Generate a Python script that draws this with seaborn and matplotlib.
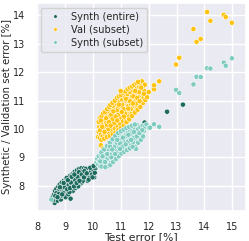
import numpy as np
import pandas as pd
import matplotlib
matplotlib.use("Agg")
import matplotlib.pyplot as plt
import seaborn as sns

# Synth (entire): test error vs synthetic error (dark cluster + a few strays)
entire_x = [8.50, 8.55, 8.58, 8.62, 8.60, 8.63, 8.66, 8.68, 8.70, 8.72, 8.74, 8.75,
            8.77, 8.79, 8.80, 8.82, 8.84, 8.85, 8.87, 8.88, 8.90, 8.91, 8.93, 8.95,
            8.96, 8.98, 9.00, 9.01, 9.03, 9.04, 9.06, 9.08, 9.10, 9.11, 9.13, 9.14,
            9.16, 9.18, 9.19, 9.21, 9.22, 9.24, 9.26, 9.27, 9.29, 9.30, 9.32, 9.34,
            9.35, 9.37, 9.38, 9.40, 9.42, 9.43, 9.45, 9.47, 9.48, 9.50, 9.52, 9.53,
            9.55, 9.57, 9.58, 9.60, 9.62, 9.64, 9.66, 9.68, 9.70, 9.72, 9.75, 9.78,
            9.80, 9.82, 9.86, 9.88, 9.92, 9.96, 10.00, 10.04, 10.08, 10.12,
            8.68, 8.86, 8.97, 9.05, 9.15, 9.25, 8.78, 8.92, 9.02, 9.12, 9.20, 9.28,
            9.36, 9.44, 9.46, 9.56, 9.63, 9.74, 9.84,
            8.56, 8.64, 8.72, 8.81, 8.89, 8.94, 9.07, 9.09, 9.17, 9.23, 9.31, 9.33,
            9.41, 9.49, 9.51, 9.59, 9.67, 9.69, 9.77, 9.90, 9.98, 10.06, 10.02,
            11.85, 12.66, 13.23]
entire_y = [7.52, 7.62, 7.45, 7.40, 7.70, 7.82, 7.58, 7.90, 7.66, 7.48, 7.78, 7.97,
            7.60, 7.86, 8.05, 7.70, 7.52, 7.93, 8.12, 7.80, 7.64, 8.00, 7.88, 8.18,
            7.72, 8.06, 7.93, 7.60, 8.22, 7.82, 8.10, 7.98, 8.30, 7.70, 8.15, 7.88,
            8.04, 8.36, 7.55, 8.22, 7.95, 8.10, 8.42, 7.82, 8.28, 8.02, 8.16, 8.50,
            7.92, 8.34, 8.08, 8.22, 8.55, 8.00, 8.40, 8.14, 8.28, 8.60, 8.06, 8.45,
            8.20, 8.34, 8.62, 8.12, 8.50, 8.28, 8.40, 8.62, 8.22, 8.48, 8.34, 8.58,
            8.18, 8.44, 8.62, 8.30, 8.50, 8.40, 8.58, 8.30, 8.62, 8.72,
            7.74, 7.66, 7.95, 8.28, 7.78, 8.15, 7.72, 7.75, 8.12, 8.02, 8.12, 8.38,
            8.20, 8.32, 7.98, 8.50, 8.18, 8.60, 8.22,
            7.50, 7.64, 7.60, 7.95, 7.70, 8.10, 7.88, 8.20, 7.92, 8.32, 7.98, 8.40,
            8.10, 8.48, 8.18, 8.40, 8.30, 8.52, 8.44, 8.64, 8.30, 8.46, 8.70,
            10.23, 10.61, 10.86]

# Val (subset)
val_x = [10.18, 10.20, 10.22, 10.24, 10.26, 10.28, 10.30, 10.32, 10.34, 10.36, 10.38,
         10.40, 10.42, 10.44, 10.46, 10.48, 10.50, 10.52, 10.54, 10.56, 10.58, 10.60,
         10.62, 10.64, 10.66, 10.68, 10.70, 10.72, 10.74, 10.76, 10.78, 10.80, 10.82,
         10.84, 10.86, 10.88, 10.90, 10.92, 10.94, 10.96, 10.98, 11.00, 11.02, 11.04,
         11.06, 11.08, 11.10, 11.12, 11.14, 11.16, 11.18, 11.20, 11.22, 11.24, 11.26,
         11.28, 11.30, 11.32, 11.34, 11.36, 11.38, 11.40, 11.42, 11.44, 11.46, 11.48,
         11.50, 11.52, 11.54, 11.56, 11.58, 11.60, 11.62, 11.64, 11.66, 11.68, 11.70,
         11.72, 11.74, 11.76, 11.78, 11.80, 11.82, 11.84, 11.86, 11.90,
         10.25, 10.35, 10.45, 10.55, 10.65, 10.75, 10.85, 10.95, 11.05, 11.15, 11.25,
         11.35, 11.45, 11.55, 11.65, 11.10, 10.90, 10.70, 10.50, 10.30,
         10.20, 10.24, 10.30, 10.28, 10.36, 10.42, 10.50, 10.58, 10.62, 10.70, 10.78,
         10.86, 10.92, 11.00, 11.08, 11.16, 11.24, 11.32, 11.40, 11.48, 11.56, 11.62,
         10.30, 10.40, 10.50, 10.60, 10.70, 10.80, 10.90, 11.00, 11.10, 11.20, 11.30,
         11.40, 11.50, 11.60, 11.70, 11.80, 11.88, 11.94,
         10.33, 10.41, 10.47, 10.57, 10.63, 10.73, 10.81, 10.87, 10.93, 11.03, 11.11,
         11.19, 11.27, 11.33, 11.43, 11.51, 11.59, 11.67, 11.73, 11.83,
         10.99, 10.28, 10.36, 12.00, 12.19, 12.19, 12.38, 12.98, 13.10, 13.61, 13.72,
         13.87, 14.10, 14.22, 14.70, 14.77, 14.99]
val_y = [9.72, 9.90, 10.08, 9.68, 10.22, 9.82, 10.00, 10.36, 9.74, 10.14, 9.92,
         10.44, 10.28, 9.80, 10.06, 10.52, 9.94, 10.34, 10.18, 10.62, 9.86, 10.46,
         10.04, 10.70, 10.26, 9.96, 10.56, 10.14, 10.80, 10.38, 10.02, 10.66, 10.24,
         10.88, 10.48, 10.10, 10.74, 10.32, 10.96, 10.56, 10.18, 10.82, 10.42, 11.04,
         10.64, 10.28, 10.90, 10.50, 11.12, 10.72, 10.36, 10.98, 10.58, 11.22, 10.80,
         10.46, 11.06, 10.68, 11.30, 10.88, 10.54, 11.14, 10.76, 11.36, 10.96, 10.64,
         11.22, 10.86, 11.44, 11.04, 10.74, 11.30, 10.94, 11.52, 11.12, 10.86, 11.38,
         11.60, 11.02, 11.68, 11.24, 11.48, 11.10, 11.34, 11.56, 11.20,
         9.96, 10.30, 10.20, 10.00, 10.50, 10.20, 10.65, 10.40, 10.85, 10.55, 11.00,
         10.70, 11.15, 10.90, 11.30, 10.70, 10.50, 10.35, 10.15, 10.15,
         10.25, 10.38, 10.45, 10.30, 10.55, 10.60, 10.70, 10.78, 10.85, 10.92, 11.00,
         11.10, 11.15, 11.20, 11.28, 11.32, 11.40, 11.46, 11.50, 11.56, 11.62, 11.66,
         9.62, 9.66, 9.72, 9.76, 9.82, 9.88, 9.96, 10.04, 10.12, 10.24, 10.34,
         10.46, 10.58, 10.68, 10.78, 10.92, 11.02, 11.12,
         10.08, 9.90, 10.38, 10.24, 10.12, 10.62, 10.44, 10.30, 10.86, 10.60, 10.44,
         11.06, 10.72, 10.98, 10.90, 11.34, 11.10, 10.98, 11.46, 11.24,
         11.34, 9.43, 9.33, 11.30, 11.40, 11.54, 11.68, 12.27, 12.51, 13.52, 13.07,
         13.17, 14.12, 13.81, 14.02, 13.94, 13.74]

# Synth (subset)
sub_x = [8.50, 10.12, 10.15, 10.18, 10.20, 10.22, 10.25, 10.28, 10.30, 10.32, 10.35,
         10.38, 10.40, 10.42, 10.44, 10.46, 10.48, 10.50, 10.52, 10.54, 10.56, 10.58,
         10.60, 10.62, 10.64, 10.66, 10.68, 10.70, 10.72, 10.74, 10.76, 10.78, 10.80,
         10.82, 10.84, 10.86, 10.88, 10.90, 10.92, 10.94, 10.96, 10.98, 11.00, 11.02,
         11.04, 11.06, 11.08, 11.10, 11.12, 11.14, 11.16, 11.18, 11.20, 11.22, 11.24,
         11.26, 11.28, 11.30, 11.32, 11.34, 11.36, 11.38, 11.40, 11.42, 11.44, 11.46,
         11.48, 11.50, 11.52, 11.54, 11.56, 11.58, 11.60, 11.62, 11.66, 11.70, 11.74,
         11.78, 11.82, 11.86, 11.92, 12.00,
         10.36, 10.46, 10.56, 10.66, 10.76, 10.86, 10.96, 11.06, 11.16, 11.26, 11.36,
         11.46,
         10.30, 10.40, 10.50, 10.60, 10.70, 10.80, 10.90, 11.00, 11.10, 11.20, 11.30,
         11.40, 11.50,
         10.30, 10.44, 10.62, 10.72, 10.82, 10.92, 11.02, 11.12, 11.22, 11.32, 11.42,
         11.62, 11.72, 11.80,
         10.26, 10.34, 10.43, 10.51, 10.61, 10.69, 10.79, 10.87, 10.97, 11.07, 11.17,
         11.27, 11.37, 11.47, 11.57, 11.67, 11.77,
         12.05, 12.19, 12.38, 12.98, 13.10, 13.61, 13.72, 13.87, 14.10, 14.22,
         14.70, 14.77, 14.99]
sub_y = [7.52, 8.82, 8.95, 8.75, 9.05, 8.88, 8.70, 9.12, 8.96, 8.80, 9.20,
         9.02, 8.72, 9.30, 8.90, 9.10, 8.78, 9.36, 8.96, 9.18, 8.70, 9.44,
         9.04, 9.26, 8.82, 9.52, 9.12, 9.34, 8.92, 9.60, 9.20, 9.42, 9.00,
         9.68, 9.28, 9.50, 9.08, 9.76, 9.36, 9.58, 9.16, 9.84, 9.44, 9.66,
         9.24, 9.90, 9.52, 9.74, 9.30, 9.96, 9.60, 9.82, 9.36, 10.00, 9.66,
         9.88, 9.42, 10.04, 9.72, 9.94, 9.48, 10.08, 9.78, 9.98, 9.54, 10.10,
         9.84, 10.02, 9.38, 9.30, 9.90, 10.14, 9.62, 10.00, 9.70, 10.06, 9.80,
         10.12, 9.92, 10.08, 10.16, 10.04,
         8.86, 9.24, 9.30, 9.00, 9.36, 9.14, 9.50, 9.38, 9.74, 9.56, 9.84,
         9.68,
         9.18, 9.28, 9.40, 9.52, 9.64, 9.76, 9.86, 9.92, 9.98, 10.04, 10.08,
         10.12, 10.16,
         8.68, 8.66, 8.74, 8.84, 8.94, 9.04, 9.14, 9.20, 9.26, 9.32, 9.38,
         9.52, 9.62, 9.74,
         8.86, 9.04, 8.84, 9.12, 9.38, 9.28, 9.12, 9.62, 9.30, 9.70, 9.46,
         9.80, 9.62, 9.90, 9.74, 9.86, 9.96,
         10.05, 10.17, 10.08, 11.38, 11.27, 11.57, 11.84, 11.83, 12.14, 12.13,
         12.34, 12.23, 12.49]

labels = ["Synth (entire)", "Val (subset)", "Synth (subset)"]
colors = ["#1d6b5f", "#ffc30f", "#80cbc0"]

df = pd.concat([
    pd.DataFrame({"test": entire_x, "err": entire_y, "set": labels[0]}),
    pd.DataFrame({"test": val_x, "err": val_y, "set": labels[1]}),
    pd.DataFrame({"test": sub_x, "err": sub_y, "set": labels[2]}),
], ignore_index=True)

sns.set_theme(style="darkgrid")
fig, ax = plt.subplots(figsize=(2.49, 2.41), dpi=100)
sns.scatterplot(data=df, x="test", y="err", hue="set", hue_order=labels,
                palette=colors, s=14, linewidth=0.4, edgecolor="white", ax=ax)

ax.set_xlim(7.95, 15.5)
ax.set_ylim(7.12, 14.44)
ax.set_xticks(range(8, 16))
ax.set_yticks(range(8, 15))
ax.tick_params(labelsize=7, pad=2)
ax.set_xlabel("Test error [%]", fontsize=7.8, labelpad=0)
ax.set_ylabel("Synthetic / Validation set error [%]", fontsize=7.3, labelpad=0.5)
ax.legend(loc="upper left", fontsize=7.1, markerscale=0.7, handletextpad=0.6,
          borderpad=0.4, labelspacing=0.3)

fig.subplots_adjust(left=0.145, right=0.988, top=0.988, bottom=0.125)
fig.savefig("out.png", dpi=100)
